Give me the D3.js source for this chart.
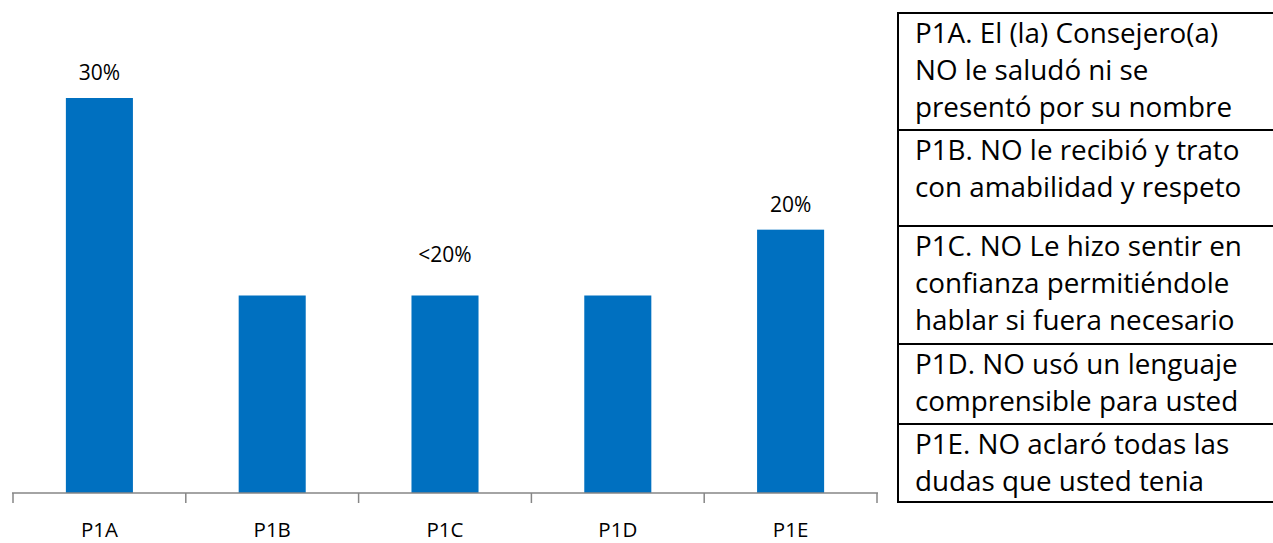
<!DOCTYPE html>
<html>
<head>
<meta charset="utf-8">
<script src="https://cdn.jsdelivr.net/npm/d3@7"></script>
<style>
  html, body { margin: 0; padding: 0; background: #ffffff; }
  svg { display: block; }
  text { font-family: "Open Sans", "Noto Sans", sans-serif; fill: #000; }
</style>
</head>
<body>
<svg id="chart" width="1273" height="543"></svg>
<script>
const categories = ["P1A", "P1B", "P1C", "P1D", "P1E"];
const values = [30, 15, 15, 15, 20];
const valueLabels = ["30%", "", "<20%", "", "20%"];
const legendItems = [
  ["P1A. El (la) Consejero(a)", "NO le saludó ni se", "presentó por su nombre"],
  ["P1B. NO le recibió y trato", "con amabilidad y respeto"],
  ["P1C. NO Le hizo sentir en", "confianza permitiéndole", "hablar si fuera necesario"],
  ["P1D. NO usó un lenguaje", "comprensible para usted"],
  ["P1E. NO aclaró todas las", "dudas que usted tenia"]
];

const svg = d3.select("#chart");

const x = d3.scaleBand().domain(categories).range([13, 877])
  .paddingInner(0.612).paddingOuter(0.306);
const y = d3.scaleLinear().domain([0, 30]).range([493, 98]);

// bars
svg.append("g").selectAll("rect").data(values).join("rect")
  .attr("x", (d, i) => x(categories[i]))
  .attr("y", d => y(d))
  .attr("width", x.bandwidth())
  .attr("height", d => y(0) - y(d))
  .attr("fill", "#0070C0");

// axis
const axis = d3.axisBottom(x).tickSize(0).tickPadding(0);
const gx = svg.append("g").attr("transform", `translate(0,${y(0)})`).call(axis);
gx.select(".domain").remove();
gx.selectAll("text").remove();
gx.append("line").attr("x1", 12).attr("x2", 878).attr("y1", 0).attr("y2", 0)
  .attr("stroke", "#868686").attr("stroke-width", 1.5);
const step = x.step();
const tickXs = d3.range(categories.length + 1).map(i => 13 + i * step);
gx.selectAll("line.tk").data(tickXs).join("line").attr("class", "tk")
  .attr("x1", d => d).attr("x2", d => d).attr("y1", 0).attr("y2", 10)
  .attr("stroke", "#868686").attr("stroke-width", 1.5);

// category labels
svg.append("g").selectAll("text").data(categories).join("text")
  .attr("x", d => x(d) + x.bandwidth() / 2)
  .attr("y", 537)
  .attr("text-anchor", "middle")
  .attr("font-size", 20.5)
  .text(d => d);

// value labels
const labelOffset = [18, 18, 34, 18, 18];
svg.append("g").selectAll("text").data(values).join("text")
  .attr("x", (d, i) => x(categories[i]) + x.bandwidth() / 2)
  .attr("y", (d, i) => y(d) - labelOffset[i])
  .attr("text-anchor", "middle")
  .attr("font-size", 21)
  .text((d, i) => valueLabels[i]);

// legend table
const rowLines = [13, 130, 226, 344, 424, 502];
const lg = svg.append("g");
rowLines.forEach(yy => {
  lg.append("line").attr("x1", 897).attr("x2", 1273).attr("y1", yy).attr("y2", yy)
    .attr("stroke", "#000").attr("stroke-width", 2);
});
lg.append("line").attr("x1", 898).attr("x2", 898).attr("y1", 12).attr("y2", 503)
  .attr("stroke", "#000").attr("stroke-width", 2);
const lineH = 37;
legendItems.forEach((lines, k) => {
  lines.forEach((t, j) => {
    lg.append("text")
      .attr("x", 915)
      .attr("y", rowLines[k] + 30 + j * lineH)
      .attr("font-size", 27.8)
      .text(t);
  });
});
</script>
</body>
</html>
